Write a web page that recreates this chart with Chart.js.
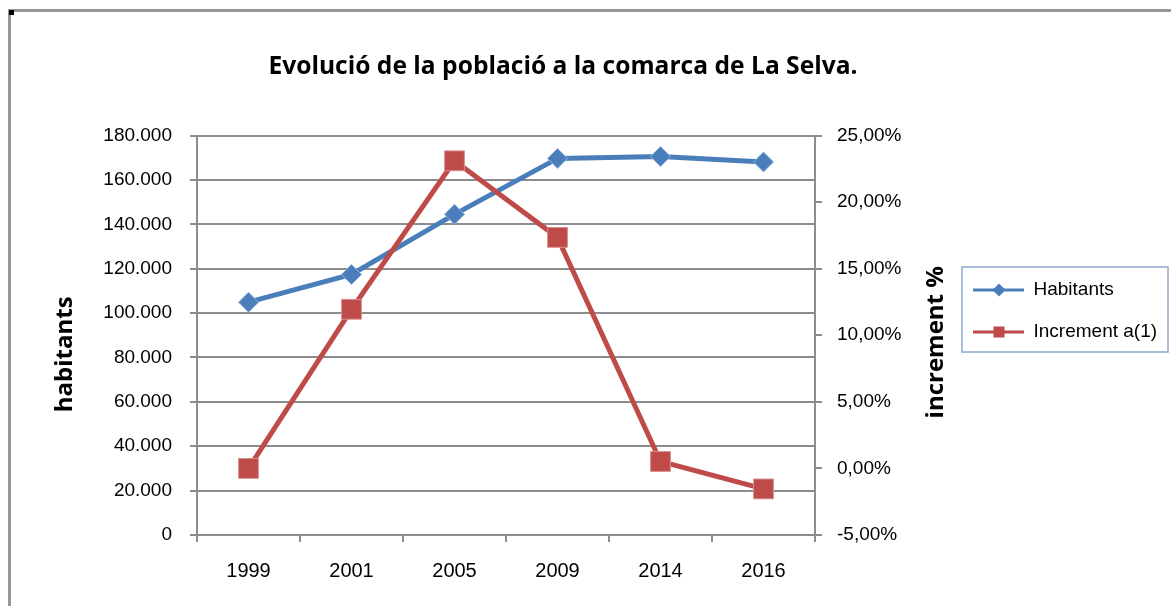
<!DOCTYPE html>
<html>
<head>
<meta charset="utf-8">
<script src="https://cdn.jsdelivr.net/npm/chart.js@4.4.1/dist/chart.umd.min.js"></script>
<style>
html,body{margin:0;padding:0;background:#fff;overflow:hidden}
#wrap{position:relative;width:1171px;height:606px;background:#fff}
canvas{position:absolute;left:0;top:0}
#frame{position:absolute;left:8px;top:9px;width:1300px;height:800px;border-left:3px solid #979797;border-top:3px solid #979797;pointer-events:none}
#dot{position:absolute;left:9px;top:10px;width:5px;height:5px;background:#000}
</style>
</head>
<body>
<div id="wrap">
  <canvas id="c" width="1171" height="606"></canvas>
  <div id="frame"></div>
  <div id="dot"></div>
</div>
<script>
// ---- data ----
const chartTitle = 'Evolució de la població a la comarca de La Selva.';
const categories = ['1999', '2001', '2005', '2009', '2014', '2016'];
const habitants = [104900, 117400, 144500, 169700, 170500, 168100];
const increment = [0.0, 11.95, 23.1, 17.35, 0.52, -1.54];
const seriesNames = ['Habitants', 'Increment a(1)'];
const habitantsTicks = [0, 20000, 40000, 60000, 80000, 100000, 120000, 140000, 160000, 180000];
const incrementTicks = [-5, 0, 5, 10, 15, 20, 25];
const leftAxisTitle = 'habitants';
const rightAxisTitle = 'increment %';

// ---- styles ----
const BLUE = '#4a7ebb';
const RED = '#be4b48';
const GRID = '#8c8c8c';
const TITLE_FONT = "'Open Sans', Lato, sans-serif";
const TICK_FONT = "'Liberation Sans', Arial, sans-serif";

function fmtThousands(v) {
  return String(Math.round(v)).replace(/\B(?=(\d{3})+(?!\d))/g, '.');
}
function fmtPct(v) {
  return v.toFixed(2).replace('.', ',') + '%';
}

function makeIcon(lineColor, fill, kind) {
  const c = document.createElement('canvas');
  c.width = 51; c.height = 16;
  const g = c.getContext('2d');
  g.strokeStyle = lineColor; g.lineWidth = 3;
  g.beginPath(); g.moveTo(0, 8); g.lineTo(51, 8); g.stroke();
  g.fillStyle = fill;
  if (kind === 'diamond') {
    g.beginPath(); g.moveTo(26, 1.5); g.lineTo(32.5, 8); g.lineTo(26, 14.5); g.lineTo(19.5, 8); g.closePath(); g.fill();
  } else {
    g.fillRect(20.5, 2.5, 11, 11);
  }
  return c;
}
const icons = [makeIcon(BLUE, BLUE, 'diamond'), makeIcon(RED, RED, 'square')];

function drawAxisTitle(ctx, text, x, y) {
  ctx.save();
  ctx.translate(x, y);
  ctx.rotate(-Math.PI / 2);
  ctx.font = 'bold 24px ' + TITLE_FONT;
  ctx.fillStyle = '#000';
  ctx.textAlign = 'center';
  ctx.textBaseline = 'alphabetic';
  ctx.fillText(text, 0, 0);
  ctx.restore();
}

const tweaks = {
  id: 'tweaks',
  afterLayout(chart) {
    const lg = chart.legend;
    if (!lg) return;
    const dx = 950 - lg.left;
    const dy = 257.5 - lg.top;
    lg.left += dx; lg.right = chart.width;
    lg.top += dy; lg.bottom += dy;
  },
  afterDraw(chart) {
    const ctx = chart.ctx;
    const lg = chart.legend;
    const pad = lg.options.labels.padding;
    const x0 = lg.left + pad, y0 = lg.top + pad;
    ctx.save();
    ctx.strokeStyle = '#8ea8cf';
    ctx.lineWidth = 1.5;
    ctx.strokeRect(x0 - 11, y0 - 13.5, 206, 85);
    ctx.restore();

    const ca = chart.chartArea;
    const mid = (ca.top + ca.bottom) / 2;
    drawAxisTitle(ctx, leftAxisTitle, chart.scales.y.left + 52, mid + 19);
    drawAxisTitle(ctx, rightAxisTitle, chart.scales.y1.right - 5, mid + 7);
  }
};

new Chart(document.getElementById('c'), {
  type: 'line',
  data: {
    labels: categories,
    datasets: [
      {
        label: seriesNames[0],
        data: habitants,
        yAxisID: 'y',
        borderColor: BLUE,
        backgroundColor: BLUE,
        borderWidth: 5,
        pointStyle: 'rectRot',
        pointRadius: 10,
        pointBackgroundColor: BLUE,
        pointBorderColor: '#8fb1de',
        pointBorderWidth: 1,
        tension: 0,
        order: 1,
        clip: false
      },
      {
        label: seriesNames[1],
        data: increment,
        yAxisID: 'y1',
        borderColor: RED,
        backgroundColor: RED,
        borderWidth: 5,
        pointStyle: 'rect',
        pointRadius: 14,
        pointBackgroundColor: RED,
        pointBorderColor: '#d98f8d',
        pointBorderWidth: 1,
        tension: 0,
        order: 0,
        clip: false
      }
    ]
  },
  options: {
    responsive: false,
    animation: false,
    devicePixelRatio: 1,
    layout: { padding: { left: 20, right: 65, top: 10, bottom: 0 } },
    plugins: {
      title: {
        display: true,
        text: chartTitle,
        color: '#000',
        font: { family: TITLE_FONT, size: 24.6, weight: 'bold' },
        padding: { top: 42, bottom: 54 }
      },
      legend: {
        display: true,
        position: 'right',
        align: 'start',
        maxWidth: 158,
        labels: {
          color: '#000',
          font: { family: TICK_FONT, size: 19 },
          usePointStyle: true,
          pointStyleWidth: 51,
          padding: 23,
          sort: (a, b) => a.datasetIndex - b.datasetIndex,
          generateLabels(chart) {
            const items = Chart.defaults.plugins.legend.labels.generateLabels(chart);
            items.forEach(it => { it.pointStyle = icons[it.datasetIndex]; });
            return items;
          }
        }
      },
      tooltip: { enabled: false }
    },
    scales: {
      x: {
        type: 'category',
        offset: true,
        grid: { display: true, offset: true, drawOnChartArea: false, drawTicks: true, tickLength: 7, color: GRID, lineWidth: 2 },
        border: { display: true, color: GRID, width: 2 },
        ticks: { color: '#000', font: { family: TICK_FONT, size: 20 }, padding: 17, maxRotation: 0 },
        afterFit(s) { s.height = 71; }
      },
      y: {
        type: 'linear',
        position: 'left',
        min: 0,
        max: 180000,
        afterBuildTicks(s) { s.ticks = habitantsTicks.map(v => ({ value: v })); },
        grid: { drawOnChartArea: true, drawTicks: true, tickLength: 7, color: GRID, lineWidth: 2 },
        border: { display: true, color: GRID, width: 2 },
        ticks: { color: '#000', font: { family: TICK_FONT, size: 19 }, padding: 18, callback: v => fmtThousands(v) },
        title: { display: false, text: leftAxisTitle },
        afterFit(s) { s.width = 177; }
      },
      y1: {
        type: 'linear',
        position: 'right',
        min: -5,
        max: 25,
        afterBuildTicks(s) { s.ticks = incrementTicks.map(v => ({ value: v })); },
        grid: { drawOnChartArea: false, drawTicks: true, tickLength: 7, color: GRID, lineWidth: 2 },
        border: { display: true, color: GRID, width: 2 },
        ticks: { color: '#000', font: { family: TICK_FONT, size: 19 }, padding: 15, callback: v => fmtPct(v) },
        title: { display: false, text: rightAxisTitle },
        afterFit(s) { s.width = 133; }
      }
    }
  },
  plugins: [tweaks]
});
</script>
</body>
</html>
